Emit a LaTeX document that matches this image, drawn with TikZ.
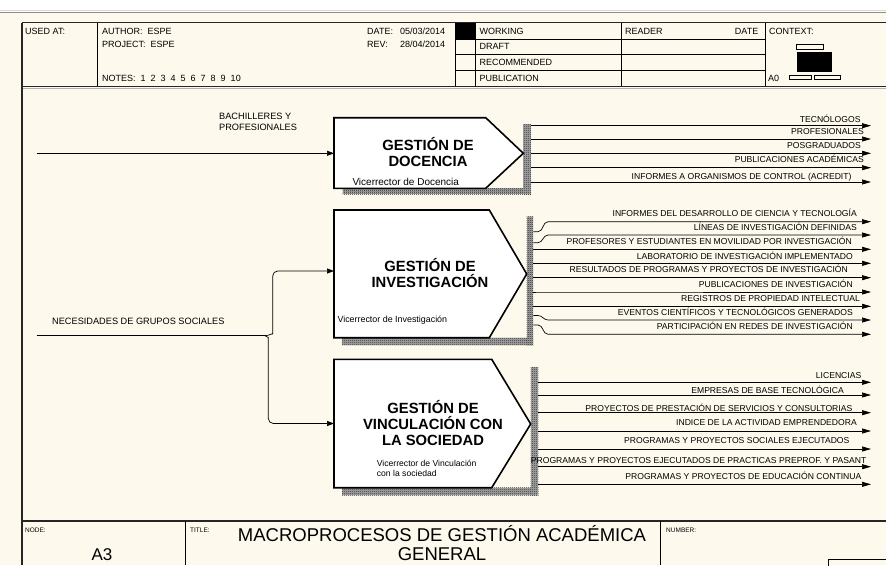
\documentclass[tikz,border=0pt]{standalone}
\usepackage{fontspec}
\setmainfont{Liberation Sans}
\usetikzlibrary{arrows.meta,patterns}
\definecolor{bgcream}{RGB}{253,249,237}
\pgfdeclarepatternformonly{finecheck}{\pgfpointorigin}{\pgfpoint{2pt}{2pt}}{\pgfpoint{2pt}{2pt}}{%
  \pgfpathrectangle{\pgfpointorigin}{\pgfpoint{1pt}{1pt}}%
  \pgfpathrectangle{\pgfpoint{1pt}{1pt}}{\pgfpoint{1pt}{1pt}}%
  \pgfusepath{fill}}
\tikzset{
  hdrline/.style={draw=black!85, line width=1.1pt},
  cellline/.style={draw=black, line width=0.8pt},
  hdr/.style={font=\fontsize{9}{10}\selectfont, anchor=base west, inner sep=0pt},
  tiny/.style={font=\fontsize{6.5}{7}\selectfont, anchor=base west, inner sep=0pt},
  procbox/.style={draw=black, line width=1.6pt, fill=white, line join=miter},
  shadowstrip/.style={fill=black!35, postaction={pattern=finecheck, pattern color=black!80}},
  flow/.style={draw=black, line width=0.7pt, -{Triangle[length=9pt,width=5pt]}},
  inflow/.style={draw=black, line width=0.7pt, -{Triangle[length=7pt,width=5pt]}, rounded corners=5pt},
  outlabel/.style={font=\fontsize{8.6}{9}\selectfont, anchor=base east, inner sep=0pt},
  inlabel/.style={font=\fontsize{9.2}{11.5}\selectfont, anchor=base west, inner sep=0pt, align=left},
  boxtitle/.style={font=\fontsize{14.8}{16}\bfseries\selectfont, align=center, inner sep=0pt},
  vicelabel/.style={inner sep=0pt, anchor=base west, align=left}
}
\begin{document}
\begin{tikzpicture}[x=1pt,y=-1pt]
\useasboundingbox (0,0) rectangle (886,565);
\fill[white] (0,0) rectangle (886,565);
\fill[bgcream] (0,13) rectangle (886,565);
\draw[black!45, line width=1.6pt] (0,12.5) -- (886,12.5);
\draw[black!15, line width=1pt] (0,10.5) -- (886,10.5);

% ---------- header ----------
\draw[hdrline] (22,22.7) -- (886,22.7);
\draw[hdrline] (22,86.3) -- (886,86.3);
\draw[black!30, line width=0.8pt] (22,88) -- (886,88);
\draw[hdrline] (22,22.7) -- (22,565);
\foreach \x in {97.7,455.7,475,621.7,765} \draw[cellline] (\x,22.7) -- (\x,86.3);
\foreach \y in {39.3,54.3,70} \draw[cellline] (455.7,\y) -- (765,\y);
\fill[black] (455.7,22.7) rectangle (475,39.3);

\node[hdr] (usedat) at (25,34.5) {USED AT:};
\node[hdr] (author) at (102,34.5) {AUTHOR:\ \ ESPE};
\node[hdr] (project) at (102,47.5) {PROJECT:\ \ ESPE};
\node[hdr] (notes) at (102,81) {NOTES:\ \ 1\ \ 2\ \ 3\ \ 4\ \ 5\ \ 6\ \ 7\ \ 8\ \ 9\ \ 10};
\node[hdr] (date) at (367,34.5) {DATE:};
\node[hdr] (dateval) at (400,34.5) {05/03/2014};
\node[hdr] (rev) at (367,47.5) {REV:};
\node[hdr] (revval) at (400,47.5) {28/04/2014};
\node[hdr] (working) at (479.3,34.3) {WORKING};
\node[hdr] (draft) at (479.3,49.3) {DRAFT};
\node[hdr] (recommended) at (479.3,65.5) {RECOMMENDED};
\node[hdr] (publication) at (479.3,81) {PUBLICATION};
\node[hdr] (reader) at (625,34.3) {READER};
\node[hdr, anchor=base east] (rdate) at (758.5,34.3) {DATE};
\node[hdr] (context) at (769,34.3) {CONTEXT:};
\node[hdr] (azero) at (768,81) {A0};
\draw[black, line width=0.7pt] (796.7,44.3) rectangle (823,49.3);
\fill[black] (796.7,51.7) rectangle (831.7,71.7);
\draw[black, line width=0.7pt] (789,75.3) rectangle (811,79);
\draw[black, line width=0.7pt] (814,75.3) rectangle (840,79);

% ---------- shadows ----------
\path[shadowstrip] (342.5,188.3) rectangle (531,194);
\path[shadowstrip] (523.3,124) rectangle (531,194);
\path[shadowstrip] (341.7,337.7) rectangle (533.3,345);
\path[shadowstrip] (526.7,216.7) rectangle (533.3,345);
\path[shadowstrip] (342,487.7) rectangle (538.3,495);
\path[shadowstrip] (530.7,367.3) rectangle (538.3,495);

% ---------- process boxes ----------
\draw[procbox] (334,117.7) -- (485.7,117.7) -- (523.3,153.3) -- (485.7,188.3) -- (334,188.3) -- cycle;
\draw[procbox] (334,210) -- (489.3,210) -- (526.7,274) -- (489.3,337.7) -- (334,337.7) -- cycle;
\draw[procbox] (334,359.3) -- (491.7,359.3) -- (530.7,424) -- (491.7,487.7) -- (334,487.7) -- cycle;

\node[boxtitle] (doc) at (428,152.5) {GESTIÓN DE\\DOCENCIA};
\node[boxtitle] (inv) at (430,273.5) {GESTIÓN DE\\INVESTIGACIÓN};
\node[boxtitle] (vin) at (433,423.5) {GESTIÓN DE\\VINCULACIÓN CON\\LA SOCIEDAD};
\node[vicelabel, font=\fontsize{10}{11}\selectfont] (docv) at (352.3,185) {Vicerrector de Docencia};
\node[vicelabel, font=\fontsize{8.9}{10}\selectfont] (invv) at (337.3,322.5) {Vicerrector de Investigación};
\node[vicelabel, font=\fontsize{8.6}{10}\selectfont] (vinv) at (376.7,476.5) {Vicerrector de Vinculación\\con la sociedad};

% ---------- inputs ----------
\coordinate (bachIn) at (36.7,153.3);
\coordinate (docW) at (334,153.3);
\draw[inflow] (bachIn) -- (docW);
\node[inlabel] (bachlbl) at (219,130.8) {BACHILLERES Y\\PROFESIONALES};

\coordinate (necIn) at (36.7,335.7);
\coordinate (necJ) at (265,335.7);
\coordinate (invW) at (334,271);
\coordinate (vinW) at (334,423.5);
\draw[black, line width=0.7pt] (necIn) -- (necJ);
\draw[inflow] (necJ) to[out=0,in=-90] (272.7,329) -- (272.7,271) -- (invW);
\draw[inflow] (necJ) to[out=0,in=90] (268.3,342) -- (268.3,423.5) -- (vinW);
\node[inlabel] (neclbl) at (52,324.8) {NECESIDADES DE GRUPOS SOCIALES};

% ---------- outputs: docencia ----------
\foreach \i/\y/\b/\r/\t in {
  1/125.7/122.1/860.7/TECNÓLOGOS,
  2/139/134.1/864/PROFESIONALES,
  3/153.3/148.8/861/POSGRADUADOS,
  4/167.7/162.4/864/PUBLICACIONES ACADÉMICAS,
  5/182/179.4/851.7/INFORMES A ORGANISMOS DE CONTROL (ACREDIT)}{
  \coordinate (d\i-a) at (531,\y);
  \coordinate (d\i-b) at (871,\y);
  \draw[flow] (d\i-a) -- (d\i-b);
  \node[outlabel] (dl\i) at (\r,\b) {\t};
}

% ---------- outputs: investigacion ----------
\foreach \i/\ys/\y/\b/\r/\t in {
  1/231.7/221.7/216.4/857/INFORMES DEL DESARROLLO DE CIENCIA Y TECNOLOGÍA,
  2/242.7/235/230.4/857/LÍNEAS DE INVESTIGACIÓN DEFINIDAS,
  3/249.3/249.3/244.8/852/PROFESORES Y ESTUDIANTES EN MOVILIDAD POR INVESTIGACIÓN,
  4/263.3/263.3/259.1/853/LABORATORIO DE INVESTIGACIÓN IMPLEMENTADO,
  5/277.7/277.7/272.4/848/RESULTADOS DE PROGRAMAS Y PROYECTOS DE INVESTIGACIÓN,
  6/292/292/287.4/853/PUBLICACIONES DE INVESTIGACIÓN,
  7/306.3/306.3/301.4/860/REGISTROS DE PROPIEDAD INTELECTUAL,
  8/315.5/320/315.8/853/EVENTOS CIENTÍFICOS Y TECNOLÓGICOS GENERADOS,
  9/325/334.3/329.8/853/PARTICIPACIÓN EN REDES DE INVESTIGACIÓN}{
  \coordinate (v\i-a) at (533.3,\ys);
  \coordinate (v\i-k) at (538,\ys);
  \coordinate (v\i-m) at (548,\y);
  \coordinate (v\i-b) at (871,\y);
  \draw[flow] (v\i-a) -- (v\i-k) to[out=0,in=180] (v\i-m) -- (v\i-b);
  \node[outlabel] (vl\i) at (\r,\b) {\t};
}

% ---------- outputs: vinculacion ----------
\foreach \i/\y/\b/\r/\t in {
  1/382.3/378.1/861.5/LICENCIAS,
  2/395/393.1/844/EMPRESAS DE BASE TECNOLÓGICA,
  3/412.7/411.5/852.5/PROYECTOS DE PRESTACIÓN DE SERVICIOS Y CONSULTORIAS,
  4/431/425.8/857/INDICE DE LA ACTIVIDAD EMPRENDEDORA,
  5/449/443.1/849.6/PROGRAMAS Y PROYECTOS SOCIALES EJECUTADOS,
  7/484.3/479.7/861.5/PROGRAMAS Y PROYECTOS DE EDUCACIÓN CONTINUA}{
  \coordinate (s\i-a) at (538.3,\y);
  \coordinate (s\i-b) at (871,\y);
  \draw[flow] (s\i-a) -- (s\i-b);
  \node[outlabel] (sl\i) at (\r,\b) {\t};
}
\coordinate (s6-a) at (538.3,466.7);
\coordinate (s6-b) at (871,466.7);
\draw[flow] (s6-a) -- (s6-b);
\node[outlabel, anchor=base west] (sl6) at (530.7,463.1) {PROGRAMAS Y PROYECTOS EJECUTADOS DE PRACTICAS PREPROF. Y PASANT};

% ---------- footer ----------
\draw[hdrline] (22,521) -- (886,521);
\draw[cellline] (185,521) -- (185,565);
\draw[cellline] (660,521) -- (660,565);
\draw[black, line width=0.7pt] (828,559) rectangle (890,570);
\node[tiny] (nodelbl) at (25,532.5) {NODE:};
\node[tiny] (titlelbl) at (190,532.5) {TITLE:};
\node[tiny] (numlbl) at (666,532.5) {NUMBER:};
\node[font=\fontsize{17}{18}\selectfont, inner sep=0pt, anchor=base] (nodeval) at (102,560) {A3};
\node[font=\fontsize{18.5}{18}\selectfont, inner sep=0pt, anchor=base] (title1) at (442,541.5) {MACROPROCESOS DE GESTIÓN ACADÉMICA};
\node[font=\fontsize{18.5}{18}\selectfont, inner sep=0pt, anchor=base] (title2) at (442,560) {GENERAL};
\end{tikzpicture}
\end{document}
